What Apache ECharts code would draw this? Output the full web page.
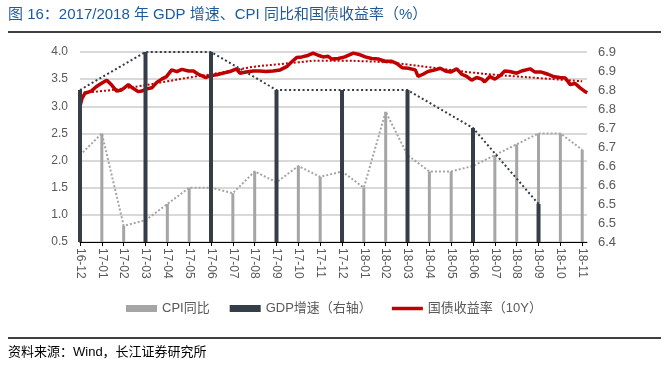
<!DOCTYPE html>
<html><head><meta charset="utf-8">
<script src="https://cdn.jsdelivr.net/npm/echarts@6/dist/echarts.min.js"></script>
<style>html,body{margin:0;padding:0;background:#fff}#c{width:668px;height:368px}</style>
</head><body><div id="c"></div>
<script>
const months = ['16-12','17-01','17-02','17-03','17-04','17-05','17-06','17-07','17-08','17-09','17-10','17-11','17-12','18-01','18-02','18-03','18-04','18-05','18-06','18-07','18-08','18-09','18-10','18-11'];
const cpi = [2.1,2.5,0.8,0.9,1.2,1.5,1.5,1.4,1.8,1.6,1.9,1.7,1.8,1.5,2.9,2.1,1.8,1.8,1.9,2.1,2.3,2.5,2.5,2.2];
const gdpMonths = ['16-12','17-03','17-06','17-09','17-12','18-03','18-06','18-09'];
const gdp = [6.8,6.9,6.9,6.8,6.8,6.8,6.7,6.5];
const yieldDates = ['2016-12-01','2016-12-04','2016-12-08','2016-12-17','2016-12-24','2016-12-31','2017-01-08','2017-01-15','2017-01-22','2017-01-29','2017-02-07','2017-02-13','2017-02-20','2017-02-24','2017-03-03','2017-03-10','2017-03-17','2017-03-24','2017-03-31','2017-04-07','2017-04-14','2017-04-21','2017-04-30','2017-05-07','2017-05-14','2017-05-21','2017-05-24','2017-05-30','2017-06-09','2017-06-18','2017-06-27','2017-07-06','2017-07-11','2017-07-20','2017-07-30','2017-08-08','2017-08-17','2017-08-27','2017-09-06','2017-09-15','2017-09-22','2017-09-29','2017-10-06','2017-10-13','2017-10-22','2017-10-29','2017-11-05','2017-11-12','2017-11-17','2017-11-26','2017-12-05','2017-12-17','2017-12-24','2018-01-03','2018-01-12','2018-01-22','2018-01-31','2018-02-08','2018-02-15','2018-02-22','2018-03-02','2018-03-12','2018-03-16','2018-03-18','2018-03-23','2018-03-30','2018-04-09','2018-04-16','2018-04-23','2018-04-30','2018-05-09','2018-05-16','2018-05-23','2018-05-30','2018-06-06','2018-06-13','2018-06-17','2018-06-24','2018-07-01','2018-07-08','2018-07-15','2018-07-22','2018-08-01','2018-08-08','2018-08-20','2018-08-27','2018-09-05','2018-09-14','2018-09-21','2018-09-30','2018-10-08','2018-10-15','2018-10-22','2018-10-29','2018-11-05','2018-11-08'];
const yieldValues = [3.00,3.15,3.24,3.28,3.36,3.42,3.48,3.39,3.28,3.30,3.40,3.33,3.27,3.28,3.32,3.34,3.44,3.50,3.55,3.67,3.64,3.68,3.65,3.65,3.59,3.55,3.53,3.56,3.58,3.61,3.64,3.69,3.61,3.63,3.65,3.65,3.64,3.65,3.67,3.73,3.82,3.90,3.91,3.93,3.98,3.94,3.91,3.92,3.87,3.88,3.91,3.98,3.96,3.91,3.88,3.87,3.83,3.83,3.79,3.71,3.70,3.67,3.55,3.52,3.59,3.64,3.67,3.70,3.65,3.63,3.69,3.59,3.55,3.48,3.53,3.50,3.45,3.55,3.50,3.56,3.65,3.64,3.61,3.65,3.69,3.63,3.63,3.59,3.55,3.53,3.52,3.40,3.42,3.34,3.27,3.25];
const trendValues = [3.25,3.28,3.33,3.39,3.46,3.53,3.59,3.66,3.73,3.77,3.81,3.84,3.84,3.83,3.81,3.77,3.72,3.67,3.62,3.58,3.55,3.52,3.49,3.46];

const FONT = '"Liberation Sans","Noto Sans CJK SC",sans-serif';
const AXIS_END = 23.22;
function dateToIdx(s){
  const [y,m,d] = s.split('-').map(Number);
  const dim = new Date(y, m, 0).getDate();
  return (y-2016)*12 + (m-12) + (d-1)/dim;
}
const idx = months.map((_, i) => i);
const xAxisBase = {
  type:'value', min:0, max:AXIS_END, interval:1,
  axisLine:{show:true, onZero:false, lineStyle:{color:'#000', width:1}},
  axisTick:{show:true, length:4, lineStyle:{color:'#000'}, customValues: idx},
  axisLabel:{show:true, rotate:-90, fontSize:12, color:'#595959', fontFamily:FONT, margin:6,
    customValues: idx, formatter: v => months[Math.round(v)] || ''},
  splitLine:{show:false}
};
const chart = echarts.init(document.getElementById('c'), null, {renderer:'canvas'});
chart.setOption({
  animation:false,
  grid:{left:80, right:81, top:52, bottom:126, containLabel:false},
  xAxis:[xAxisBase, Object.assign({}, xAxisBase, {show:false})],
  yAxis:[
    {type:'value', min:0.5, max:4.0, interval:0.5, position:'left',
     axisLine:{show:false}, axisTick:{show:false},
     axisLabel:{fontSize:12, color:'#595959', fontFamily:FONT, margin:12, formatter:v=>v.toFixed(1)},
     splitLine:{show:true, lineStyle:{color:'#D9D9D9', width:2}}},
    {type:'value', min:6.4, max:6.9, interval:0.05, position:'right',
     axisLine:{show:false}, axisTick:{show:false},
     axisLabel:{fontSize:13, color:'#595959', fontFamily:FONT, margin:11,
       formatter:v=>(Math.round(v*10+1e-6)/10).toFixed(1)},
     splitLine:{show:false}}
  ],
  legend:{
    left:'center', top:297, itemWidth:31, itemHeight:7, itemGap:20,
    textStyle:{fontSize:13, color:'#595959', fontFamily:FONT},
    data:[
      {name:'CPI同比', icon:'rect'},
      {name:'GDP增速（右轴）', icon:'rect'},
      {name:'国债收益率（10Y）', icon:'path://M0,0H31V3.5H0Z'}
    ]
  },
  graphic:[
    {type:'text', left:8, top:7, style:{text:'图 16：2017/2018 年 GDP 增速、CPI 同比和国债收益率（%）', fill:'#1E5A9A', font:'15px '+FONT}},
    {type:'line', shape:{x1:8, y1:32, x2:661, y2:32}, style:{stroke:'#000', lineWidth:1.5}},
    {type:'line', shape:{x1:8, y1:338, x2:661, y2:338}, style:{stroke:'#000', lineWidth:1.5}},
    {type:'text', left:8, top:346, style:{text:'资料来源：Wind，长江证券研究所', fill:'#000', font:'13px '+FONT}}
  ],
  series:[
    {name:'CPI同比', type:'bar', xAxisIndex:0, yAxisIndex:0, barWidth:3, clip:true, z:2,
     itemStyle:{color:'#A5A5A5'}, data: cpi.map((v,i)=>[i,v])},
    {name:'CPI线', type:'line', xAxisIndex:0, yAxisIndex:0, symbol:'none', z:3,
     lineStyle:{color:'#A5A5A5', width:2, type:[2,2]}, data: cpi.map((v,i)=>[i,v])},
    {name:'国债收益率（10Y）', type:'line', xAxisIndex:0, yAxisIndex:0, symbol:'none', z:4,
     itemStyle:{color:'#C00000'}, lineStyle:{color:'#C00000', width:3.5},
     data: yieldDates.map((d,i)=>[dateToIdx(d), yieldValues[i]])},
    {name:'趋势', type:'line', xAxisIndex:0, yAxisIndex:0, symbol:'none', smooth:0.5, z:5,
     lineStyle:{color:'#C00000', width:2, type:[2,2]}, data: trendValues.map((v,i)=>[i,v])},
    {name:'GDP增速（右轴）', type:'bar', xAxisIndex:1, yAxisIndex:1, barWidth:4, clip:true, z:6,
     itemStyle:{color:'#353D48'}, data: gdpMonths.map((m,i)=>[months.indexOf(m), gdp[i]])},
    {name:'GDP线', type:'line', xAxisIndex:1, yAxisIndex:1, symbol:'none', z:7,
     lineStyle:{color:'#353D48', width:2, type:[2,2.5]}, data: gdpMonths.map((m,i)=>[months.indexOf(m), gdp[i]])}
  ]
});
</script></body></html>
